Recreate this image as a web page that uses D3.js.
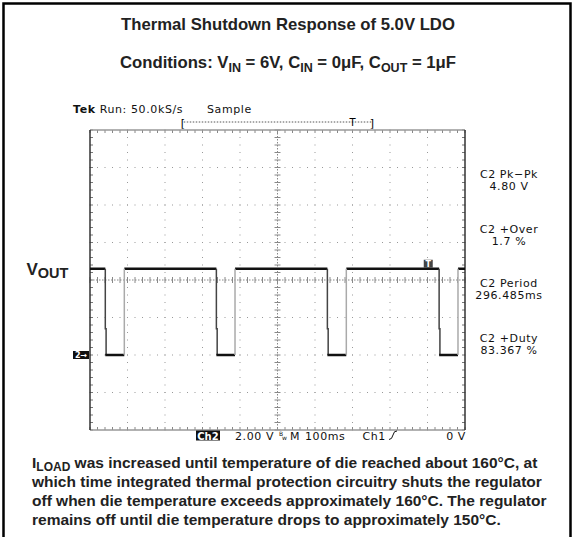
<!DOCTYPE html>
<html><head><meta charset="utf-8">
<script src="https://cdn.jsdelivr.net/npm/d3@7"></script>
<style>html,body{margin:0;padding:0;background:#fff;}svg{display:block;}</style>
</head><body>
<script>
// ---- data ----
const titleText = "Thermal Shutdown Response of 5.0V LDO";
const fallMs = [40.8, 337, 633, 931];      // falling edges (ms from screen left)
const riseMs = [91.5, 386.7, 683.5, 981.3]; // rising edges
const highV = 4.6, lowV = 0;
const timeDomain = [0, 1000];   // 100 ms/div, 10 div
const voltDomain = [-4, 12];    // 2 V/div, 8 div, ground 2 div below centre
const xDivs = d3.range(0, 11);
const yDivs = d3.range(0, 9);
const readouts = [["C2 Pk\u2212Pk", "4.80 V"], ["C2 +Over", "1.7 %"], ["C2 Period", "296.485ms"], ["C2 +Duty", "83.367 %"]];
const noteLines = [
  "which time integrated thermal protection circuitry shuts the regulator",
  "off when die temperature exceeds approximately 160\u00B0C. The regulator",
  "remains off until die temperature drops to approximately 150\u00B0C."];

const W = 575, H = 537;
const svg = d3.select("body").append("svg").attr("width", W).attr("height", H);
const P = {l: 90, r: 465, t: 130, b: 430};
const x = d3.scaleLinear().domain(timeDomain).range([P.l, P.r]);
const y = d3.scaleLinear().domain(voltDomain).range([P.b, P.t]);
const sans = "'Liberation Sans', Arial, Helvetica, sans-serif";
const tek = "'DejaVu Sans', sans-serif";
const tekLS = 0.6;

// outer frame
svg.append("rect").attr("x", 3.5).attr("y", 3.5).attr("width", 567).attr("height", 560)
  .attr("fill", "none").attr("stroke", "#000").attr("stroke-width", 2.5);

// title
svg.append("text").attr("x", 288).attr("y", 30).attr("text-anchor", "middle")
  .attr("font-family", sans).attr("font-weight", "bold").attr("font-size", 16.7).attr("fill", "#222")
  .text(titleText);
const cond = svg.append("text").attr("x", 288).attr("y", 68).attr("text-anchor", "middle")
  .attr("font-family", sans).attr("font-weight", "bold").attr("font-size", 16.7).attr("fill", "#222");
function sub(t, s) { t.append("tspan").attr("font-size", 12.5).attr("dy", 4).text(s); }
function nor(t, s, back) { const ts = t.append("tspan").text(s); if (back) ts.attr("dy", -4); }
nor(cond, "Conditions: V"); sub(cond, "IN"); nor(cond, " = 6V, C", true); sub(cond, "IN");
nor(cond, " = 0\u03BCF, C", true); sub(cond, "OUT"); nor(cond, " = 1\u03BCF", true);

// Tek header
const hdr = svg.append("text").attr("x", 73).attr("y", 113).attr("font-family", tek).attr("font-size", 11).attr("letter-spacing", tekLS).attr("fill", "#111");
hdr.append("tspan").attr("font-weight", "bold").text("Tek");
hdr.append("tspan").text(" Run: 50.0kS/s");
svg.append("text").attr("x", 207).attr("y", 113).attr("font-family", tek).attr("font-size", 11).attr("letter-spacing", tekLS).attr("fill", "#111").text("Sample");
// record bracket
svg.append("line").attr("x1", x(250)).attr("x2", x(752)).attr("y1", 122).attr("y2", 122)
  .attr("stroke", "#555").attr("stroke-dasharray", "1.5,1.5");
svg.append("text").attr("x", x(248)).attr("y", 127).attr("font-family", tek).attr("font-size", 11).attr("text-anchor", "middle").text("[");
svg.append("text").attr("x", x(752)).attr("y", 127).attr("font-family", tek).attr("font-size", 11).attr("text-anchor", "middle").text("]");
svg.append("text").attr("x", x(700)).attr("y", 126).attr("font-family", tek).attr("font-size", 10).attr("text-anchor", "middle").text("T");

// graticule
const g = svg.append("g");
const minorX = d3.range(0, 51).map(i => P.l + i * (P.r - P.l) / 50);
const minorY = d3.range(0, 41).map(i => P.t + i * (P.b - P.t) / 40);
xDivs.slice(1, -1).filter(d => d !== 5).forEach(d => {
  const xx = P.l + d * (P.r - P.l) / 10;
  minorY.forEach(yy => g.append("rect").attr("x", xx - 0.5).attr("y", yy - 0.5).attr("width", 1).attr("height", 1).attr("fill", "#999"));
});
yDivs.slice(1, -1).filter(d => d !== 4).forEach(d => {
  const yy = P.t + d * (P.b - P.t) / 8;
  minorX.forEach(xx => g.append("rect").attr("x", xx - 0.5).attr("y", yy - 0.5).attr("width", 1).attr("height", 1).attr("fill", "#999"));
});
const cx = (P.l + P.r) / 2, cy = (P.t + P.b) / 2;
g.append("line").attr("x1", P.l).attr("x2", P.r).attr("y1", cy).attr("y2", cy).attr("stroke", "#888").attr("stroke-dasharray", "1.5,1.5");
g.append("line").attr("y1", P.t).attr("y2", P.b).attr("x1", cx).attr("x2", cx).attr("stroke", "#888").attr("stroke-dasharray", "1.5,1.5");
minorX.forEach(xx => g.append("line").attr("x1", xx).attr("x2", xx).attr("y1", cy - 3).attr("y2", cy + 3).attr("stroke", "#888"));
minorY.forEach(yy => g.append("line").attr("y1", yy).attr("y2", yy).attr("x1", cx - 3).attr("x2", cx + 3).attr("stroke", "#888"));
minorX.forEach(xx => {
  g.append("line").attr("x1", xx).attr("x2", xx).attr("y1", P.t).attr("y2", P.t + 3).attr("stroke", "#888");
  g.append("line").attr("x1", xx).attr("x2", xx).attr("y1", P.b).attr("y2", P.b - 3).attr("stroke", "#888");
});
minorY.forEach(yy => {
  g.append("line").attr("y1", yy).attr("y2", yy).attr("x1", P.l).attr("x2", P.l + 3).attr("stroke", "#777");
  g.append("line").attr("y1", yy).attr("y2", yy).attr("x1", P.r).attr("x2", P.r - 3).attr("stroke", "#777");
});
g.append("line").attr("x1", P.l).attr("x2", P.r).attr("y1", P.t).attr("y2", P.t).attr("stroke", "#999").attr("stroke-width", 1.5);
g.append("line").attr("x1", P.l).attr("x2", P.r).attr("y1", P.b).attr("y2", P.b).attr("stroke", "#999").attr("stroke-width", 1.5);
g.append("line").attr("x1", P.l).attr("x2", P.l).attr("y1", P.t).attr("y2", P.b).attr("stroke", "#333").attr("stroke-width", 1.5);
g.append("line").attr("x1", P.r).attr("x2", P.r).attr("y1", P.t).attr("y2", P.b).attr("stroke", "#333").attr("stroke-width", 1.5);

// waveform
const w = svg.append("g").attr("fill", "none");
const highStarts = [timeDomain[0]].concat(riseMs);
const highEnds = fallMs.concat([timeDomain[1]]);
highStarts.forEach((s, i) => {
  w.append("line").attr("x1", x(s)).attr("x2", x(highEnds[i])).attr("y1", y(highV)).attr("y2", y(highV))
    .attr("stroke", "#111").attr("stroke-width", 2.5);
});
fallMs.forEach((f, i) => {
  const mid = (highV + lowV) / 2 - 0.9;
  w.append("path").attr("d", `M${x(f)},${y(highV)}V${y(mid)}H${x(f) + 0.8}V${y(lowV)}`)
    .attr("stroke", "#444").attr("stroke-width", 1.5);
  w.append("line").attr("x1", x(f)).attr("x2", x(riseMs[i])).attr("y1", y(lowV)).attr("y2", y(lowV))
    .attr("stroke", "#111").attr("stroke-width", 2.5);
});
riseMs.forEach(r => {
  w.append("line").attr("x1", x(r)).attr("x2", x(r)).attr("y1", y(lowV)).attr("y2", y(highV))
    .attr("stroke", "#aaa").attr("stroke-width", 1.5);
});
// trigger marker on trace
svg.append("rect").attr("x", x(890)).attr("y", y(highV) - 9).attr("width", 9).attr("height", 8).attr("fill", "#444");
svg.append("text").attr("x", x(890) + 4.5).attr("y", y(highV) - 2).attr("text-anchor", "middle")
  .attr("font-family", tek).attr("font-size", 8).attr("font-weight", "bold").attr("fill", "#fff").text("T");
// ground marker
svg.append("rect").attr("x", 73).attr("y", y(0) - 4).attr("width", 16).attr("height", 8).attr("fill", "#111");
svg.append("text").attr("x", 75).attr("y", y(0) + 3).attr("font-family", tek).attr("font-size", 8).attr("font-weight", "bold").attr("fill", "#fff").text("2\u2192");

// VOUT
const vout = svg.append("text").attr("x", 26.5).attr("y", 274.5).attr("font-family", sans).attr("font-weight", "bold").attr("font-size", 17).attr("fill", "#222");
vout.append("tspan").text("V");
vout.append("tspan").attr("font-size", 14.5).attr("dy", 3).text("OUT");

// right readouts
readouts.forEach((r, i) => {
  const by = [178, 233, 287, 342][i];
  const t = svg.append("text").attr("x", 509).attr("y", by).attr("text-anchor", "middle").attr("font-family", tek).attr("font-size", 11).attr("letter-spacing", tekLS).attr("fill", "#111");
  t.append("tspan").attr("x", 509).text(r[0]);
  t.append("tspan").attr("x", 509).attr("dy", 11.5).text(r[1]);
});

// bottom readout
svg.append("rect").attr("x", 196).attr("y", 430.5).attr("width", 24).attr("height", 10).attr("fill", "#111");
svg.append("text").attr("x", 208).attr("y", 439.5).attr("text-anchor", "middle").attr("font-family", tek).attr("font-weight", "bold").attr("font-size", 10).attr("fill", "#fff").text("Ch2");
const bt = (xx, s, anchor) => svg.append("text").attr("x", xx).attr("y", 439.5).attr("text-anchor", anchor || "start").attr("font-family", tek).attr("font-size", 11).attr("letter-spacing", tekLS).attr("fill", "#111").text(s);
bt(235, "2.00 V");
svg.append("text").attr("x", 279).attr("y", 436).attr("font-family", tek).attr("font-size", 6).attr("fill", "#111").text("B");
svg.append("text").attr("x", 282).attr("y", 440).attr("font-family", tek).attr("font-size", 6).attr("fill", "#111").text("w");
bt(290, "M");
bt(305, "100ms");
bt(362.5, "Ch1");
svg.append("path").attr("d", "M389,439.5 Q392,439.5 393,435 T397,431").attr("fill", "none").attr("stroke", "#111").attr("stroke-width", 1);
bt(466, "0 V", "end");

// note
const nf = 15.5;
const n1 = svg.append("text").attr("x", 32).attr("y", 468).attr("font-family", sans).attr("font-weight", "bold").attr("font-size", nf).attr("fill", "#222");
n1.append("tspan").text("I");
n1.append("tspan").attr("font-size", 12).attr("dy", 3).text("LOAD");
n1.append("tspan").attr("dy", -3).text(" was increased until temperature of die reached about 160\u00B0C, at");
noteLines.forEach((s, i) => {
  svg.append("text").attr("x", 32).attr("y", 487 + i * 19).attr("font-family", sans).attr("font-weight", "bold").attr("font-size", nf).attr("fill", "#222").text(s);
});
</script>
</body></html>
